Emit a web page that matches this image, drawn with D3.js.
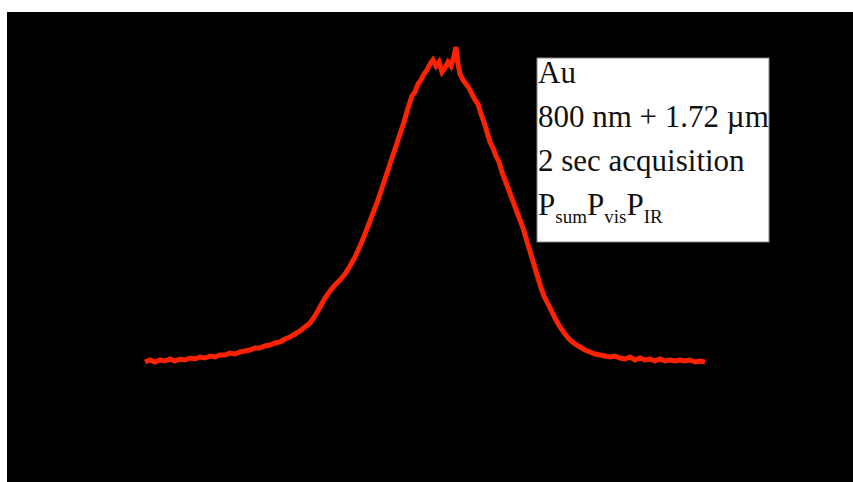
<!DOCTYPE html>
<html>
<head>
<meta charset="utf-8">
<script src="https://cdn.jsdelivr.net/npm/d3@7"></script>
<style>
  html, body { margin: 0; padding: 0; background: #fff; }
  svg { display: block; }
</style>
</head>
<body>
<div id="chart"></div>
<script>
// delay (arb. units) and signal counts
var delay = [0,5,10,15,20,25,30,35,40,45,50,55,60,65,70,75,80,85,90,95,100,105,110,115,120,125,130,135,140,
    145,150,155,160,165,170,175,180,185,190,195,200,205,210,215,220,225,230,235,
    239,243,247,251,255,259,263,267,
    270,273,276,279,282,285,288,291,294,297,300,303,306,309,311,313,
    315,318,321,324,327,330,333,336,339,342,345,348,351,354,357,360,363,366,369,372,375,378,381,384,387,390,393,396,399,
    403,407,411,415,
    420,425,430,435,440,445,450,455,460,465,470,475,480,485,490,495,500,505,510,515,520,525,530,535,540,545,550,555,560];
var signal = [0,2,0,2,1,3,1,3,2,4,3,5,4,6,5,7,7,9,8,10,11,12,14,14,16,17,19,20,23,
    25,28,31,35,39,46,55,64,71,77,82,88,96,105,116,128,141,154,168,
    180,192,204,216,228,240,254,266,
    270,278,282,288,292,298,302,296,300,290,294,300,296,306,315,298,
    288,282,278,274,268,262,258,248,240,230,220,214,206,200,190,182,174,166,158,150,142,134,124,114,104,94,84,74,66,
    58,50,42,35,
    28,22,18,15,12,10,8,7,6,5,6,4,3,5,2,4,2,3,1,3,1,2,1,2,1,2,0,1,0];

var legendLines = ["Au", "800 nm + 1.72 \u00b5m", "2 sec acquisition"];
var powerTerms = [["P", "sum"], ["P", "vis"], ["P", "IR"]];

var W = 853, H = 482;
var svg = d3.select('#chart').append('svg')
    .attr('width', W)
    .attr('height', H);

svg.append('rect')
    .attr('x', 7).attr('y', 12)
    .attr('width', W - 7).attr('height', H - 12)
    .attr('fill', '#000');

var x = d3.scaleLinear().domain([0, 560]).range([145, 705]);
var y = d3.scaleLinear().domain([0, 320]).range([362, 42]);

var line = d3.line()
    .x(function(d, i){ return x(delay[i]); })
    .y(function(d){ return y(d); });

svg.append('path')
    .datum(signal)
    .attr('d', line)
    .attr('fill', 'none')
    .attr('stroke', '#ff2200')
    .attr('stroke-width', 5)
    .attr('stroke-linejoin', 'miter');

// legend box
var lg = svg.append('g').attr('font-family', '"Liberation Serif", "Times New Roman", serif');
lg.append('rect')
    .attr('x', 537).attr('y', 58)
    .attr('width', 232).attr('height', 184)
    .attr('fill', '#fff')
    .attr('stroke', '#888')
    .attr('stroke-width', 1);

legendLines.forEach(function(t, i){
    lg.append('text')
        .attr('x', 538)
        .attr('y', 83 + i * 44)
        .attr('font-size', 31)
        .attr('fill', '#111')
        .text(t);
});

var pt = lg.append('text')
    .attr('x', 538)
    .attr('y', 215)
    .attr('font-size', 31)
    .attr('fill', '#111');
powerTerms.forEach(function(p, i){
    pt.append('tspan').attr('dy', i === 0 ? 0 : -8).text(p[0]);
    pt.append('tspan').attr('font-size', 19).attr('dy', 8).text(p[1]);
});
</script>
</body>
</html>
